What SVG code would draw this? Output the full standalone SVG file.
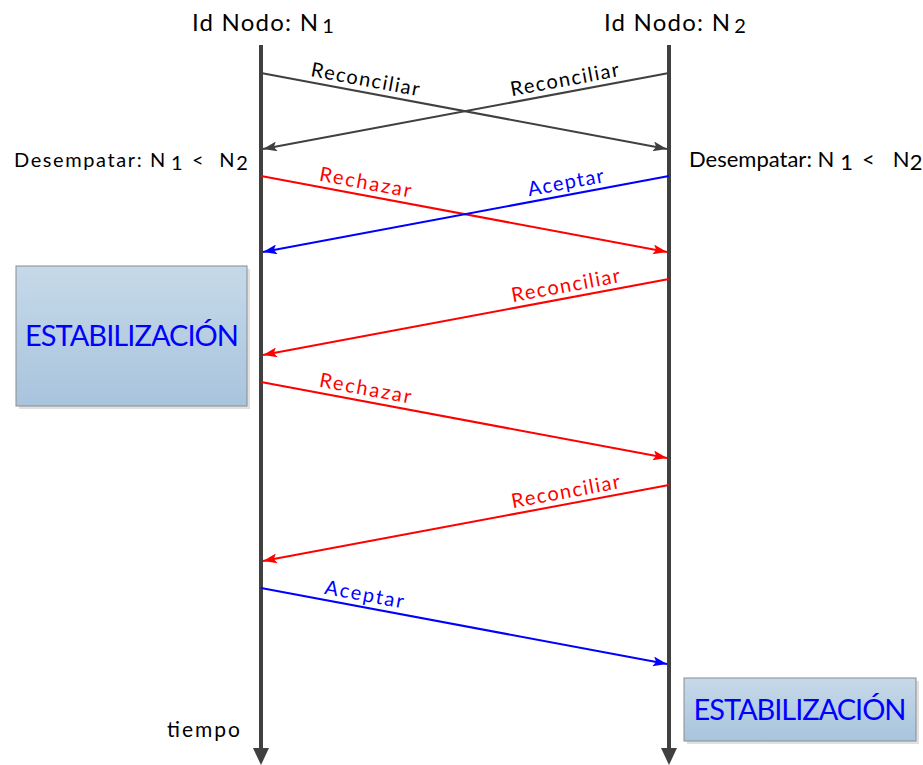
<svg xmlns="http://www.w3.org/2000/svg" width="923" height="765" viewBox="0 0 923 765">
<style>
text{font-family:"Lato","Liberation Sans",sans-serif;}
.hdr{font-size:24px;fill:#000;}
.lbl{font-size:20px;text-anchor:middle;}
.tl{stroke:#404040;stroke-width:4;fill:none;}
.g{stroke:#404040;stroke-width:2;fill:none;}
.r{stroke:#ff0000;stroke-width:2;fill:none;}
.b{stroke:#0000ff;stroke-width:2;fill:none;}
.box{stroke:#8c8c8c;stroke-width:1;fill:url(#grad);}
.est{font-size:29px;fill:#0000ff;text-anchor:middle;}
</style>
<defs>
<linearGradient id="grad" x1="0" y1="0" x2="0" y2="1">
<stop offset="0" stop-color="#c6d9e9"/>
<stop offset="1" stop-color="#a8c4dd"/>
</linearGradient>
<marker id="ag" viewBox="0 0 14 10" refX="14" refY="5" markerWidth="14" markerHeight="10" markerUnits="userSpaceOnUse" orient="auto"><path d="M0,0 L14,5 L0,10 L3,5 Z" fill="#404040"/></marker>
<marker id="ar" viewBox="0 0 14 10" refX="14" refY="5" markerWidth="14" markerHeight="10" markerUnits="userSpaceOnUse" orient="auto"><path d="M0,0 L14,5 L0,10 L3,5 Z" fill="#ff0000"/></marker>
<marker id="ab" viewBox="0 0 14 10" refX="14" refY="5" markerWidth="14" markerHeight="10" markerUnits="userSpaceOnUse" orient="auto"><path d="M0,0 L14,5 L0,10 L3,5 Z" fill="#0000ff"/></marker>
</defs>
<rect width="923" height="765" fill="#fff"/>

<g id="nodo1">
<text class="hdr" x="192" y="31"><tspan textLength="126">Id Nodo: N</tspan><tspan font-size="20" dx="3" dy="2">1</tspan></text>
<line class="tl" x1="261" y1="45" x2="261" y2="750"/>
<path d="M253,748 L269,748 L261,765 Z" fill="#404040"/>
<text x="14" y="167" font-size="20" letter-spacing="1.6">Desempatar: N<tspan dx="4" dy="3">1</tspan><tspan dx="8" dy="-3">&lt;</tspan><tspan dx="14">N</tspan><tspan dy="3">2</tspan></text>
<text x="167" y="737" font-size="21" textLength="73">tiempo</text>
</g>

<g id="nodo2">
<text class="hdr" x="604" y="31"><tspan textLength="126">Id Nodo: N</tspan><tspan font-size="20" dx="3" dy="2">2</tspan></text>
<line class="tl" x1="669" y1="45" x2="669" y2="750"/>
<path d="M661,748 L677,748 L669,765 Z" fill="#404040"/>
<text x="689" y="167" font-size="22">Desempatar: N<tspan dx="6" dy="3">1</tspan><tspan dx="9" dy="-3">&lt;</tspan><tspan dx="18">N</tspan><tspan dy="3">2</tspan></text>
</g>

<g id="estab1">
<rect x="19" y="269" width="231" height="140" fill="#000" opacity="0.12"/>
<rect class="box" x="16" y="266" width="231" height="140"/>
<text class="est" x="132" y="346" textLength="214">ESTABILIZACIÓN</text>
</g>

<g id="estab2">
<rect x="687" y="681" width="232" height="63" fill="#000" opacity="0.12"/>
<rect class="box" x="684" y="678" width="232" height="63"/>
<text class="est" x="800" y="720" textLength="213">ESTABILIZACIÓN</text>
</g>

<g id="connectors">
<line class="g" x1="261" y1="73" x2="667" y2="149" marker-end="url(#ag)"/>
<line class="g" x1="669" y1="73" x2="263" y2="149" marker-end="url(#ag)"/>
<line class="r" x1="261" y1="176" x2="667" y2="252" marker-end="url(#ar)"/>
<line class="b" x1="669" y1="176" x2="263" y2="252" marker-end="url(#ab)"/>
<line class="r" x1="669" y1="279" x2="263" y2="355" marker-end="url(#ar)"/>
<line class="r" x1="261" y1="382" x2="667" y2="458" marker-end="url(#ar)"/>
<line class="r" x1="669" y1="485" x2="263" y2="561" marker-end="url(#ar)"/>
<line class="b" x1="261" y1="588" x2="667" y2="664" marker-end="url(#ab)"/>

<text class="lbl" fill="#000" transform="translate(363,92) rotate(10.55)" y="-6" textLength="110">Reconciliar</text>
<text class="lbl" fill="#000" transform="translate(567,92) rotate(-10.55)" y="-6" textLength="110">Reconciliar</text>
<text class="lbl" fill="#ff0000" transform="translate(363,195) rotate(10.55)" y="-6" textLength="93">Rechazar</text>
<text class="lbl" fill="#0000ff" transform="translate(568,195) rotate(-10.55)" y="-6" textLength="77">Aceptar</text>
<text class="lbl" fill="#ff0000" transform="translate(568,298) rotate(-10.55)" y="-6" textLength="110">Reconciliar</text>
<text class="lbl" fill="#ff0000" transform="translate(363,401) rotate(10.55)" y="-6" textLength="93">Rechazar</text>
<text class="lbl" fill="#ff0000" transform="translate(568,504) rotate(-10.55)" y="-6" textLength="110">Reconciliar</text>
<text class="lbl" fill="#0000ff" transform="translate(362,607) rotate(10.55)" y="-6" textLength="80">Aceptar</text>
</g>
</svg>
